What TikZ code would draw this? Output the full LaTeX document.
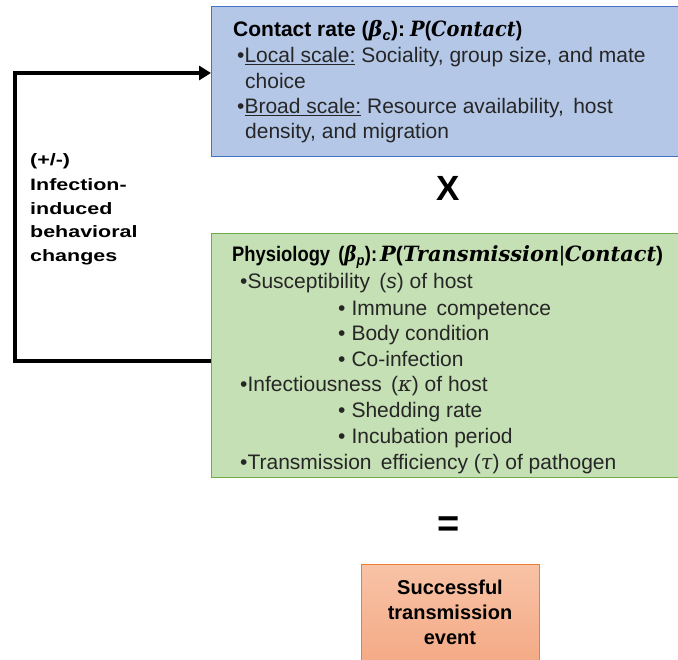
\documentclass[tikz,border=0pt]{standalone}
\usepackage{fontspec}
\setmainfont{Liberation Sans}
\newfontfamily\mathserif{DejaVu Serif}
\usetikzlibrary{arrows.meta}
\definecolor{bluefill}{HTML}{B4C7E7}
\definecolor{blueline}{HTML}{4472C4}
\definecolor{greenfill}{HTML}{C5E0B4}
\definecolor{greenline}{HTML}{70AD47}
\definecolor{orangetop}{HTML}{F8C3A6}
\definecolor{orangebot}{HTML}{F4A883}
\definecolor{orangeline}{HTML}{ED7D31}
\definecolor{txt}{HTML}{262626}
\tikzset{
  txtline/.style={anchor=base west, inner sep=0pt, font=\fontsize{21}{24}\selectfont, text=txt},
  titleline/.style={anchor=base west, inner sep=0pt, font=\fontsize{21}{24}\selectfont\bfseries, text=black},
  sidetxt/.style={anchor=base west, inner sep=0pt, font=\fontsize{16.5}{18}\selectfont\bfseries},
  feedback/.style={line width=4pt}
}
\newcommand{\mbi}[1]{{\mathserif\bfseries\itshape #1}}
\newcommand{\mi}[1]{{\mathserif\itshape #1}}
\newcommand{\fitw}[2]{\resizebox{#1pt}{\height}{#2}}
\newcommand{\subb}{•\hspace{6pt}}
\begin{document}
\begin{tikzpicture}[x=1pt,y=-1pt]
\useasboundingbox (0,0) rectangle (678,660);
% boxes
\draw[blueline, fill=bluefill, line width=1pt] (211,7) rectangle (690,157);
\coordinate (contactW) at (211,73);
\draw[greenline, fill=greenfill, line width=1pt] (211,234) rectangle (690,477);
\coordinate (physW) at (211,361);
\shade[top color=orangetop, bottom color=orangebot, draw=orangeline, line width=1pt] (361,564) rectangle (539,670);
% blue text
\node[titleline] (c1a) at (233,37) {\fitw{172}{Contact rate (\mbi{β}\textsubscript{\itshape c}):}};
\node[titleline] (c1b) at (410,37) {\fitw{112}{\mbi{P}(\mbi{Contact})}};
\node[txtline] (c2) at (237,63) {•\underline{Local scale:} Sociality, group size, and mate};
\node[txtline] (c3) at (245,89) {choice};
\node[txtline] (c4) at (237,114) {•\underline{Broad scale:} Resource availability,\, host};
\node[txtline] (c5) at (245,139) {density, and migration};
% operator
\node[inner sep=0pt, font=\fontsize{35}{36}\selectfont\bfseries] (times) at (448,188) {X};
\node[inner sep=0pt, font=\fontsize{38}{40}\selectfont\bfseries] (equals) at (449,527) {=};
% green text
\node[titleline] (p1a) at (232,262) {\fitw{145}{Physiology\, (\mbi{β}\textsubscript{\itshape p}):}};
\node[titleline] (p1b) at (380,262) {\fitw{283}{\mbi{P}(\mbi{Transmission}\textmd{|}\mbi{Contact})}};
\node[txtline] (p2) at (240,289) {•Susceptibility\, (\textit{s}) of host};
\node[txtline] (p3) at (338,316) {\subb Immune\, competence};
\node[txtline] (p4) at (338,341) {\subb Body condition};
\node[txtline] (p5) at (338,367) {\subb Co-infection};
\node[txtline] (p6) at (240,392) {•Infectiousness\, (\mi{κ}) of host};
\node[txtline] (p7) at (338,418) {\subb Shedding rate};
\node[txtline] (p8) at (338,443) {\subb Incubation period};
\node[txtline] (p9) at (240,469) {•Transmission\, efficiency (\mi{τ}) of pathogen};
% orange text
\node[inner sep=0pt, align=center, font=\fontsize{20}{25}\selectfont\bfseries] (succ) at (450,612) {Successful\\transmission\\event};
% side text
\node[sidetxt] (s1) at (30,166) {\scalebox{1.3}[1]{(+/-)}};
\node[sidetxt] (s2) at (30,191) {\scalebox{1.3}[1]{Infection-}};
\node[sidetxt] (s3) at (30,215) {\scalebox{1.3}[1]{induced}};
\node[sidetxt] (s4) at (30,238) {\scalebox{1.3}[1]{behavioral}};
\node[sidetxt] (s5) at (30,262) {\scalebox{1.3}[1]{changes}};
% feedback arrow
\draw[feedback, -{Triangle[length=12pt,width=14pt]}] (physW) -- (15,361) -- (15,73) -- (contactW);
\end{tikzpicture}
\end{document}
